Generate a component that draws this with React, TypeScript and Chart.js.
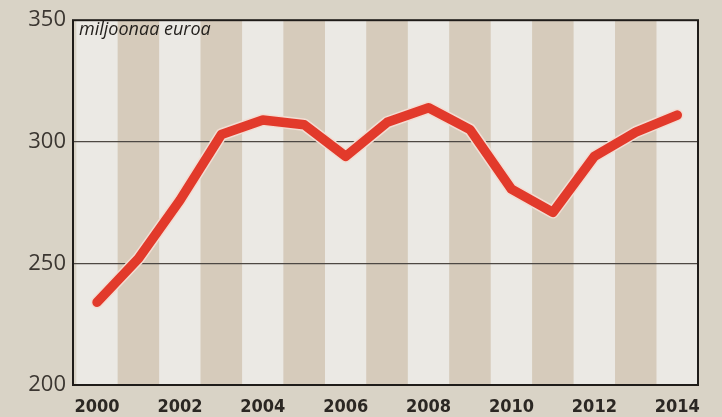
import { useEffect, useRef } from "react";
import { Chart, registerables } from "chart.js";

Chart.register(...registerables);

const years = [2000, 2001, 2002, 2003, 2004, 2005, 2006, 2007, 2008, 2009, 2010, 2011, 2012, 2013, 2014];
const values = [234, 252, 276, 303, 309, 307, 294, 308, 314, 305, 280.5, 271, 294, 304, 311];
const yearTicks = [2000, 2002, 2004, 2006, 2008, 2010, 2012, 2014];
const valueTicks = [200, 250, 300, 350];
const unitLabel = "miljoonaa euroa";

const PAPER = "#d9d3c6";
const LIGHT = "#ebe9e4";
const DARK = "#d6cbbb";
const RED = "#e23a2b";

export default function App() {
  const ref = useRef<HTMLCanvasElement>(null);

  useEffect(() => {
    document.body.style.margin = "0";
    document.body.style.background = PAPER;
    const canvas = ref.current;
    if (!canvas) return;

    const points = years.map((yr, i) => ({ x: yr, y: values[i] }));

    const stripes = {
      id: "stripes",
      beforeDraw(chart: any) {
        const { ctx, chartArea: a, scales } = chart;
        const x = scales.x;
        ctx.save();
        ctx.beginPath();
        ctx.rect(a.left, a.top, a.right - a.left, a.bottom - a.top);
        ctx.clip();
        years.forEach((yr) => {
          const l = x.getPixelForValue(yr - 0.5);
          const r = x.getPixelForValue(yr + 0.5);
          ctx.fillStyle = yr % 2 === 0 ? LIGHT : DARK;
          ctx.fillRect(l, a.top, r - l, a.bottom - a.top);
        });
        ctx.restore();
      },
    };

    const frame = {
      id: "frame",
      afterDraw(chart: any) {
        const { ctx, chartArea: a } = chart;
        ctx.save();
        ctx.strokeStyle = "#1f1c19";
        ctx.lineWidth = 2;
        ctx.strokeRect(a.left, a.top, a.right - a.left, a.bottom - a.top);
        ctx.fillStyle = "#221f1c";
        ctx.font = "italic 18px 'Open Sans', sans-serif";
        ctx.textBaseline = "alphabetic";
        ctx.textAlign = "left";
        ctx.fillText(unitLabel, a.left + 6, a.top + 15);
        ctx.restore();
      },
    };

    const chart = new Chart(canvas, {
      type: "line",
      data: {
        datasets: [
          {
            data: points,
            borderColor: RED,
            borderWidth: 9.5,
            pointRadius: 0,
            tension: 0,
            borderJoinStyle: "round",
            borderCapStyle: "round",
            order: 1,
          },
          {
            data: points,
            borderColor: "#f2ddd3",
            borderWidth: 12.5,
            pointRadius: 0,
            tension: 0,
            borderJoinStyle: "round",
            borderCapStyle: "round",
            order: 2,
          },
        ],
      },
      plugins: [stripes, frame],
      options: {
        animation: false,
        responsive: true,
        maintainAspectRatio: false,
        layout: { padding: { top: 17, right: 24, left: 0, bottom: 0 } },
        plugins: {
          legend: { display: false },
          tooltip: { enabled: false },
        },
        scales: {
          x: {
            type: "linear",
            min: 1999.42,
            max: 2014.5,
            grid: { display: false, drawTicks: false },
            border: { display: false },
            afterBuildTicks: (scale: any) => {
              scale.ticks = yearTicks.map((v) => ({ value: v }));
            },
            afterFit: (scale: any) => {
              scale.height = 32;
            },
            ticks: {
              autoSkip: false,
              maxRotation: 0,
              padding: 12,
              color: "#2b2723",
              font: { family: "'DejaVu Sans Condensed', sans-serif", size: 18, weight: "bold" },
              callback: (v: any) => String(v),
            },
          },
          y: {
            min: 200,
            max: 350,
            afterBuildTicks: (scale: any) => {
              scale.ticks = valueTicks.map((v) => ({ value: v }));
            },
            afterFit: (scale: any) => {
              scale.width = 73;
            },
            grid: {
              drawTicks: false,
              color: (c: any) => (c.tick && (c.tick.value === 250 || c.tick.value === 300) ? "#4d4843" : "rgba(0,0,0,0)"),
              lineWidth: 1.3,
            },
            border: { display: false },
            ticks: {
              padding: 7,
              color: "#3b3631",
              font: { family: "'Open Sans', sans-serif", size: 22 },
              callback: (v: any) => String(v),
            },
          },
        },
      },
    });

    return () => chart.destroy();
  }, []);

  return (
    <div style={{ width: 722, height: 417, position: "relative", background: PAPER }}>
      <canvas ref={ref} />
    </div>
  );
}
